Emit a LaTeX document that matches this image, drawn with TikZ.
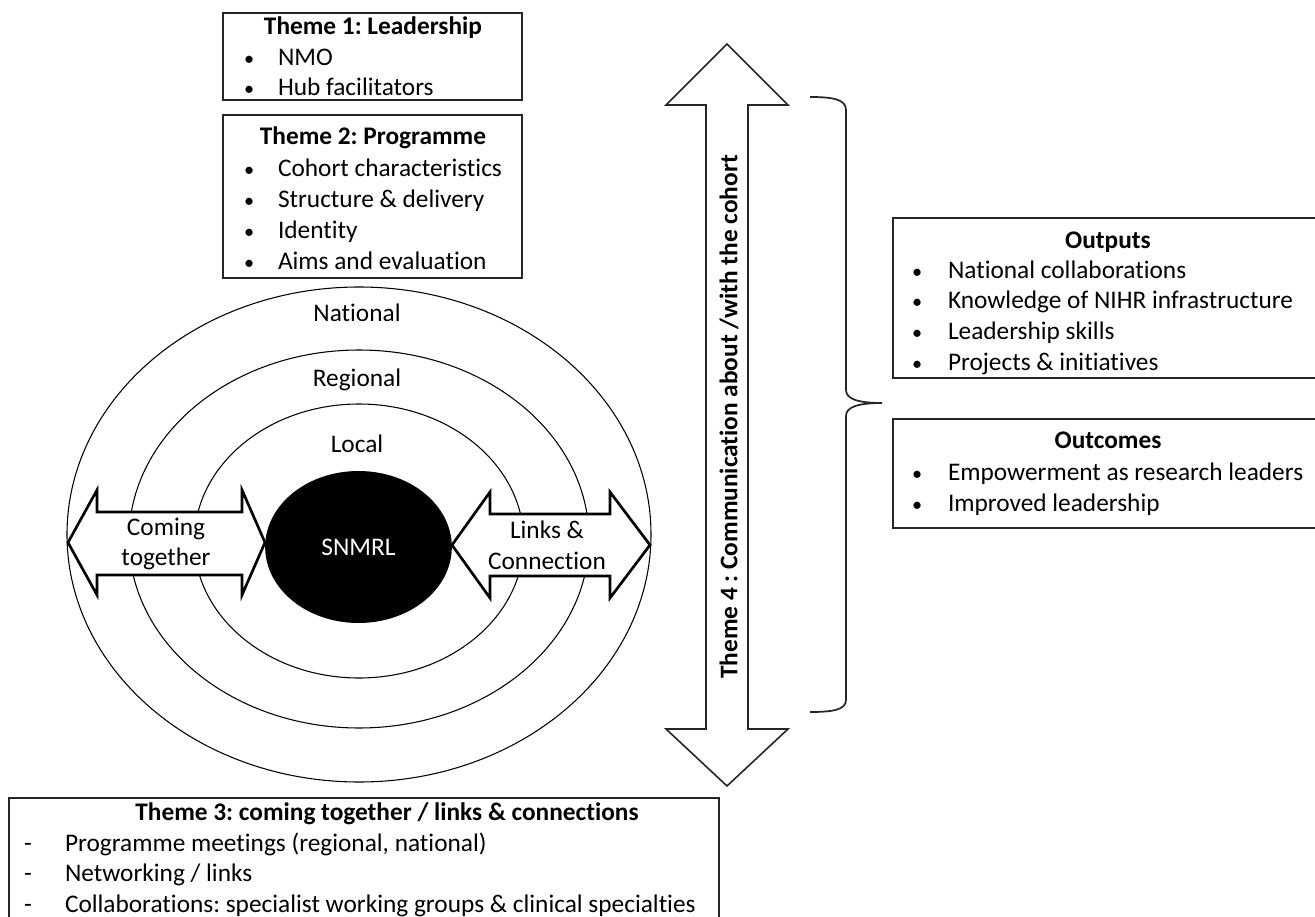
\documentclass[tikz,border=0pt]{standalone}
\usepackage{fontspec}
\setmainfont{Carlito}[Ligatures={NoCommon}]
\frenchspacing
\usetikzlibrary{fit,shapes.geometric}
\newcommand\listdot{\scalebox{0.8}{\textbullet}}
\begin{document}
\begin{tikzpicture}[x=0.75pt,y=-0.75pt,
  every node/.style={inner sep=0pt, outer sep=0pt},
  txt/.style={font=\fontsize{19}{23}\selectfont, anchor=base},
  ltxt/.style={txt, anchor=base west},
  ttl/.style={txt, font=\fontsize{19}{23}\selectfont\bfseries},
  frame/.style={draw=black!85, line width=1.2pt},
  ring/.style={draw=black, line width=0.8pt, ellipse},
  fatarrow/.style={draw=black, line width=2pt, fill=white, line join=miter},
  tallarrow/.style={draw=black!85, line width=1.2pt, fill=white, line join=miter},
  brace/.style={draw=black!85, line width=1.3pt},
]
\useasboundingbox (0,0) rectangle (1315,917);

% ---- theme boxes ----
\node[frame, fit={(223,13) (522,100)}] (theme1) {};
\node[ttl] (theme1t) at (373,35) {Theme 1: Leadership};
\node[ltxt] (theme1b1) at (244,66) {\listdot};
\node[ltxt] (theme1i1) at (278,66) {NMO};
\node[ltxt] (theme1b2) at (244,96) {\listdot};
\node[ltxt] (theme1i2) at (278,96) {Hub facilitators};

\node[frame, fit={(223,115) (522,278)}] (theme2) {};
\node[ttl] (theme2t) at (373,145) {Theme 2: Programme};
\foreach \yy/\lbl [count=\k] in {176/{Cohort characteristics}, 207/{Structure \& delivery}, 238/{Identity}, 269/{Aims and evaluation}}{
  \node[ltxt] (theme2b\k) at (244,\yy) {\listdot};
  \node[ltxt] (theme2i\k) at (278,\yy) {\lbl};
}

% ---- concentric levels ----
\node[ring, minimum width=438pt, minimum height=371.25pt] (national) at (359,534.5) {};
\node[ring, minimum width=345pt, minimum height=283.5pt] (regional) at (359,539) {};
\node[ring, minimum width=247pt, minimum height=205.5pt] (local) at (359,541) {};
\node[ellipse, fill=black, minimum width=140pt, minimum height=114pt] (snmrl) at (358.5,547) {};
\node[txt, text=white] (snmrlt) at (358.5,555) {SNMRL};
\node[txt] (nationalt) at (357,321) {National};
\node[txt] (regionalt) at (357,386) {Regional};
\node[txt] (localt) at (357,452) {Local};

% ---- horizontal double arrows ----
\draw[fatarrow] (68,542.5) -- (97,490) -- (97,512) -- (242,512) -- (242,490) -- (265,542.5)
  -- (242,595) -- (242,575) -- (97,575) -- (97,595) -- cycle;
\node[txt] (cometa) at (166,535) {Coming};
\node[txt] (cometb) at (166,565) {together};

\draw[fatarrow] (452,545) -- (490,492) -- (490,514) -- (610,514) -- (610,492) -- (650,545)
  -- (610,598) -- (610,576) -- (490,576) -- (490,598) -- cycle;
\node[txt] (linksa) at (547,538) {Links \&};
\node[txt] (linksb) at (547,569) {Connection};

% ---- theme 4 vertical arrow ----
\draw[tallarrow] (727,44) -- (788,105) -- (748,105) -- (748,729) -- (788,729) -- (727,786)
  -- (666,729) -- (706,729) -- (706,105) -- (666,105) -- cycle;
\node[txt, font=\fontsize{19}{23}\selectfont\bfseries, anchor=center, rotate=90] (theme4) at (729,417)
  {Theme 4 : Communication about /with the cohort};

% ---- brace ----
\coordinate (bracetop) at (810,97);
\coordinate (bracetip) at (882,403);
\coordinate (bracebot) at (810,712);
\draw[brace] (bracetop) .. controls (832,97) and (846,99) .. (846,110) -- (846,390)
  .. controls (846,399) and (858,403) .. (bracetip)
  .. controls (858,403) and (846,407) .. (846,416) -- (846,700)
  .. controls (846,710) and (832,712) .. (bracebot);

% ---- outputs / outcomes ----
\node[frame, fit={(893,218) (1340,378)}] (outputs) {};
\node[ttl] (outputst) at (1108,248) {Outputs};
\foreach \yy/\lbl [count=\k] in {278/{National collaborations}, 308/{Knowledge of NIHR infrastructure}, 339/{Leadership skills}, 370/{Projects \& initiatives}}{
  \node[ltxt] (outputsb\k) at (912,\yy) {\listdot};
  \node[ltxt] (outputsi\k) at (948,\yy) {\lbl};
}
\node[frame, fit={(893,419) (1340,528)}] (outcomes) {};
\node[ttl] (outcomest) at (1108,448) {Outcomes};
\foreach \yy/\lbl [count=\k] in {480/{Empowerment as research leaders}, 511/{Improved leadership}}{
  \node[ltxt] (outcomesb\k) at (912,\yy) {\listdot};
  \node[ltxt] (outcomesi\k) at (948,\yy) {\lbl};
}

% ---- theme 3 ----
\node[frame, fit={(9,798) (719,940)}] (theme3) {};
\node[ttl] (theme3t) at (387,820) {Theme 3: coming together / links \& connections};
\foreach \yy/\lbl [count=\k] in {851/{Programme meetings (regional, national)}, 881/{Networking / links}, 912/{Collaborations: specialist working groups \& clinical specialties}}{
  \node[ltxt] (theme3d\k) at (24,\yy) {-};
  \node[ltxt] (theme3i\k) at (65,\yy) {\lbl};
}
\end{tikzpicture}
\end{document}
